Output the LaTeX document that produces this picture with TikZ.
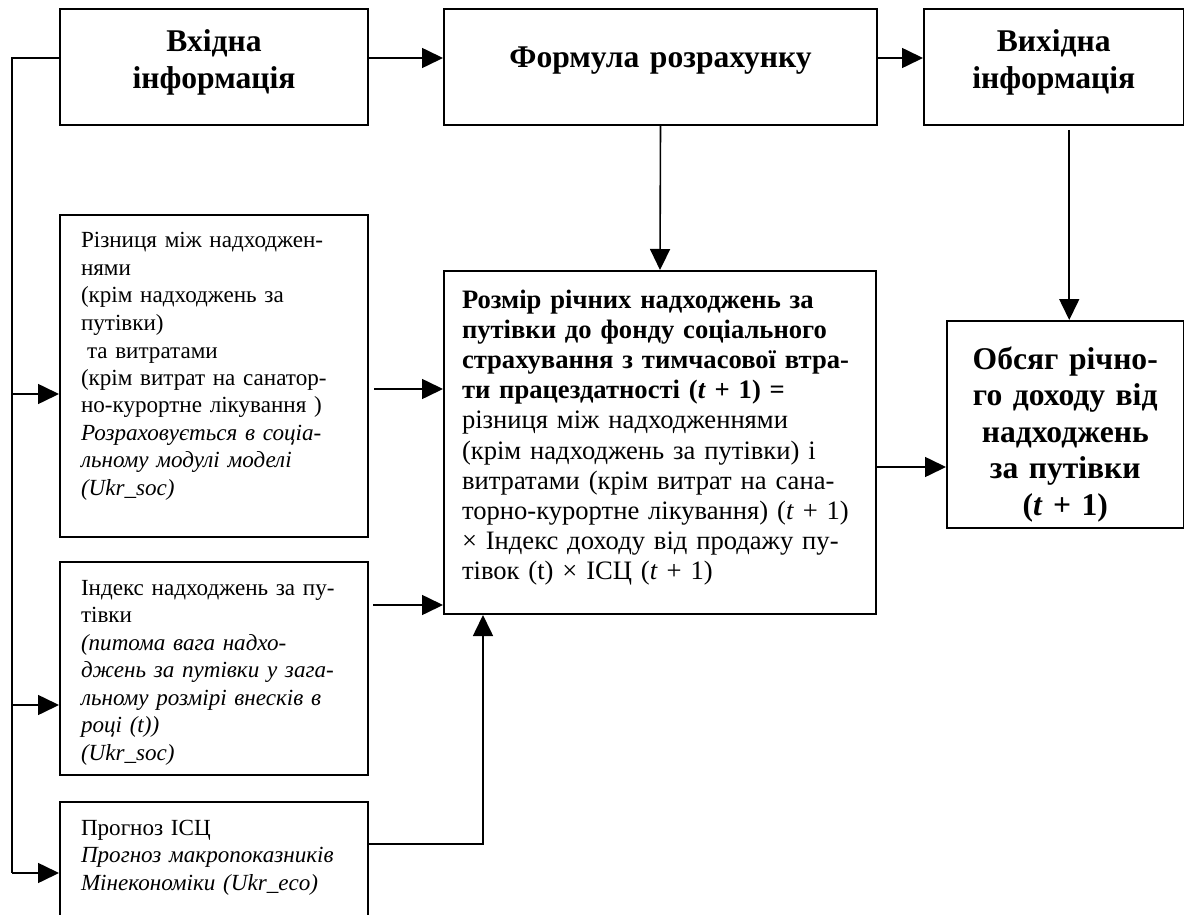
\documentclass[tikz,border=0pt]{standalone}
\usepackage{fontspec}
\setmainfont{Liberation Serif}
\usetikzlibrary{arrows.meta}

\begin{document}
\begin{tikzpicture}[
    x=0.5pt, y=-0.5pt,
    every node/.style={inner sep=0pt},
    hdr/.style={draw, line width=1pt, anchor=north west, align=center,
      font=\fontsize{15.8}{18.3}\selectfont\bfseries, text height=21.5pt},
    lbox/.style={draw, line width=1pt, anchor=north west, align=left,
      inner xsep=10.5pt, text width=133pt, text height=16.5pt,
      font=\fontsize{11.55}{13.75}\selectfont},
    line/.style={line width=0.8pt},
    arr/.style={line, -{Triangle[length=10.5pt,width=10pt]}}
  ]
    \useasboundingbox (0,0) rectangle (1184,915);
    % Top row
    \node[hdr, text width=154pt, text depth=36.5pt] (inp) at (59,8)
      {Вхідна\\інформація};
    \node[hdr, text width=216.5pt, text height=29.5pt, text depth=28.5pt]
      (form) at (443,8) {Формула розрахунку};
    \node[hdr, text width=129.75pt, text depth=36.5pt] (out) at (923,8)
      {Вихідна\\інформація};
    % Input boxes on the left
    \node[lbox, text depth=144.5pt] (diff) at (59,214)
      {Різниця між надходжен-\\нями\\(крім надходжень за\\путівки)\\
       \hspace*{3pt}та витратами\\(крім витрат на санатор-\\
       но-курортне лікування )\\\itshape Розраховується в соціа-\\
       льному модулі моделі\\(Ukr\_soc)};
    \node[lbox, text depth=90pt] (idx) at (59,561)
      {Індекс надходжень за пу-\\тівки\\\itshape (питома вага надхо-\\
       джень за путівки у зага-\\льному розмірі внесків в\\році (t))\\
       (Ukr\_soc)};
    \node[lbox, text depth=63.5pt] (cpi) at (59,801)
      {Прогноз ІСЦ\\\itshape Прогноз макропоказників\\
       Мінекономіки (Ukr\_eco)};
    % Formula box
    \node[draw, line width=1pt, anchor=north west, align=left,
          inner xsep=9pt, text width=198pt, text height=18.5pt,
          text depth=153pt, font=\fontsize{13.3}{15.1}\selectfont]
      (calc) at (443,270)
      {\bfseries Розмір річних надходжень за\\путівки до фонду соціального\\
       страхування з тимчасової втра-\\ти працездатності (\textit{t}~+~1)~=\\
       \mdseries різниця між надходженнями\\(крім надходжень за путівки) і\\
       витратами (крім витрат на сана-\\торно-курортне лікування) (\textit{t}~+~1)\\
       × Індекс доходу від продажу пу-\\тівок (t) × ІСЦ (\textit{t}~+~1)};
    % Result box
    \node[hdr, text width=118.25pt, text height=24pt, text depth=79.5pt]
      (res) at (946,320)
      {Обсяг річно-\\го доходу від\\надходжень\\за путівки\\(\textit{t}~+~1)};
    % Connector end points
    \coordinate (bus) at (12,0);
    \coordinate (inpout) at ([yshift=4.5pt]inp.west);
    \coordinate (diffin) at ([yshift=-9pt]diff.west);
    \coordinate (idxin) at ([yshift=-18.25pt]idx.west);
    \coordinate (cpiin) at ([yshift=4.5pt]cpi.west);
    \coordinate (diffout) at ([xshift=2.5pt,yshift=-6.5pt]diff.east);
    \coordinate (idxout) at ([xshift=2pt,yshift=31.75pt]idx.east);
    \coordinate (cpiout) at ([yshift=19pt]cpi.east);
    \coordinate (calcin) at ([xshift=-88.5pt]calc.south);
    \coordinate (calcout) at ([yshift=-12.25pt]calc.east);
    \coordinate (resin) at ([xshift=2pt]res.north);
    \coordinate (outbot) at ([yshift=-2pt]out.south);
    % Left feed line
    \draw[line] (inpout) -| (bus |- cpiin);
    \draw[arr] (bus |- diffin) -- (diffin);
    \draw[arr] (bus |- idxin) -- (idxin);
    \draw[arr] (bus |- cpiin) -- (cpiin);
    % Top row arrows
    \draw[arr] ([yshift=4.5pt]inp.east) -- ([yshift=4.5pt]form.west);
    \draw[arr] ([yshift=4.5pt]form.east) -- ([yshift=4.5pt]out.west);
    \draw[arr] (form.south) -- (calc.north);
    \draw[arr] (resin |- outbot) -- (resin);
    % Into and out of the formula box
    \draw[arr] (diffout) -- (diffout -| calc.west);
    \draw[arr] (idxout) -- (idxout -| calc.west);
    \draw[arr] (cpiout) -| (calcin);
    \draw[arr] (calcout) -- (calcout -| res.west);
  \end{tikzpicture}
\end{document}
